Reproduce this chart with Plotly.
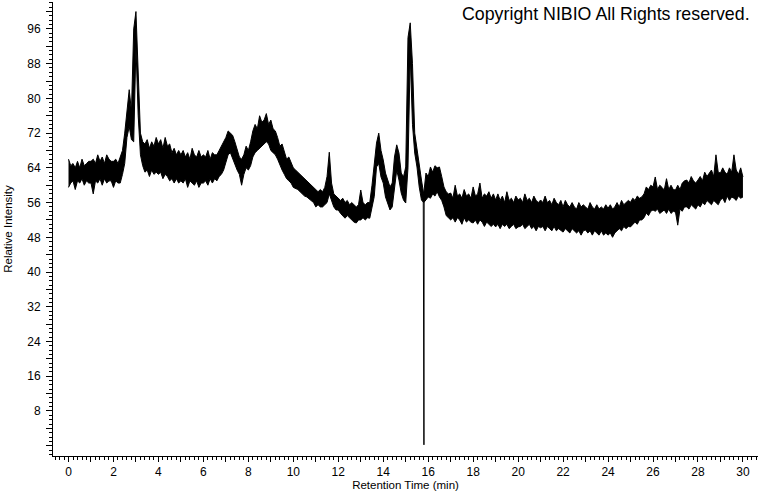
import numpy as np
import plotly.graph_objects as go

# Retention time grid (min), 0.1-min steps from 0 to 30
time_min = np.round(np.arange(0, 30.0001, 0.1), 1)

# Upper envelope of the noisy trace, one row per minute (10 values), plus final point at 30.0
upper = [
    66, 64.5, 65, 64, 65.5, 64, 66, 64.5, 65, 65.5,
    65.5, 66, 65, 67, 65.5, 66.5, 65, 67, 66, 65.5,
    65.5, 66, 65, 66.5, 68, 72, 78, 82, 77, 96,
    100, 88, 72, 70, 69.5, 70.5, 68.5, 70, 69, 71,
    69.5, 70.5, 68.5, 71, 69, 69.5, 67.5, 68.5, 67, 68,
    67, 68, 66.5, 67.5, 66, 68.5, 67, 66.5, 68, 66.5,
    67, 66.5, 68, 66, 67.5, 67, 67, 68, 69, 70,
    71, 72.5, 72, 71.5, 70, 68, 66.5, 66, 67, 69,
    68, 70, 72.5, 74, 73, 76, 74.5, 75, 76.5, 74,
    75, 73, 72.5, 71, 69, 69.5, 67.5, 66, 66.5, 65,
    64, 63.5, 63, 62.5, 62, 61.5, 61, 60.5, 60, 59.5,
    59, 58.5, 59, 58.5, 59.5, 62, 67.6, 60.5, 58, 57.5,
    57, 56.5, 57, 56, 56.5, 55.5, 56, 55.5, 55, 55.5,
    58.9, 56, 55.5, 56, 56, 60, 64.3, 69.7, 72, 68,
    65.8, 62.8, 61.2, 59.6, 60.5, 66.5, 69.3, 67.4, 62.8, 61.9,
    64.2, 94, 97.4, 88, 72, 68, 65, 61.2, 58, 62.8,
    62, 64.2, 63, 64.5, 64, 64.2, 62, 59.6, 58.5, 58,
    58.2, 57, 60, 57.5, 58, 57, 59, 57.5, 58, 57,
    59.6, 57.5, 58, 60.5, 57, 58, 57.5, 58.5, 57, 58,
    56.6, 58, 56.5, 57.5, 56, 58.5, 56.5, 57, 56, 57.5,
    56.6, 57, 56, 58, 56.5, 57, 56, 57.5, 56.5, 56,
    56.6, 56, 57.5, 56, 56.5, 55.5, 57, 56, 55.5, 56.5,
    55, 56.5, 55.5, 55, 56, 55, 54.5, 56, 55, 55.5,
    55, 54.5, 56, 55, 54.5, 55.5, 54.5, 55, 54.5, 55.5,
    54.7, 55.5, 54.5, 55, 56, 55, 56.5, 55.5, 56, 56.5,
    56.1, 57, 56.5, 57.5, 57, 57.3, 58, 59.6, 59, 60,
    59.6, 61.9, 59, 60, 59.5, 58.9, 61.5, 59, 60, 59,
    58.9, 60, 59, 60.5, 61, 61.2, 60.5, 62, 61, 60.5,
    61.2, 62, 61, 63, 62, 62.8, 63.5, 62, 67, 63,
    62.8, 64, 63, 62.5, 64, 63, 67, 63.5, 62.5, 64,
    61.9,
]

# Lower envelope of the noisy trace
lower = [
    59.5, 60.5, 61, 59, 61, 60.5, 61.5, 60, 61, 60.5,
    60.5, 58, 61, 60.5, 61.5, 60, 61.5, 60.5, 61, 61,
    59.5, 61, 60.5, 60.5, 62.5, 65, 71, 73.5, 70.5, 70,
    92, 76, 67, 64.5, 63, 63.5, 62, 63.5, 62.5, 63,
    62.5, 63, 61.5, 62.5, 62, 61, 61.5, 60.5, 61.5, 60.5,
    61, 60.5, 61.5, 59.5, 61, 60.5, 60, 61, 59.5, 60.5,
    60.5, 61, 60, 61.5, 60.5, 61.5, 61, 62, 62.5, 63.5,
    65, 67, 67.5, 66, 65, 63.5, 62.5, 60, 62.5, 64,
    63.5, 64.5, 66.5, 67.5, 68, 68.5, 69, 69.5, 70, 69.5,
    68, 67.5, 67, 66, 64.5, 63.5, 62.5, 61.5, 61, 60.5,
    59.5, 59.3, 59, 58.5, 58, 57.5, 57.3, 56.8, 56.5, 56,
    55, 55.5, 55, 55, 55.5, 56, 58, 56.6, 55, 54.3,
    54.3, 53.5, 53, 52.4, 53, 52.5, 52, 51.5, 51.3, 52,
    52, 52.5, 52, 52.5, 52.4, 55, 57.4, 64.2, 65, 61.9,
    60.5, 57.3, 55.8, 54.3, 55, 58.9, 63.5, 61.2, 58.2, 56.6,
    55.9, 64, 90, 74, 67.4, 64.2, 59.6, 56.6, 56, 56.6,
    57.3, 57, 58, 57.5, 58.5, 57.3, 56.5, 55, 53, 52.5,
    52, 52.5, 51.5, 52.5, 52, 51, 52.5, 51.5, 52, 51.5,
    51.3, 52, 51, 52, 51.5, 50.5, 51.5, 51, 50.5, 51,
    50.4, 51, 50, 51, 50.5, 51, 50, 50.5, 51, 50,
    50.4, 50.5, 51, 50, 50.5, 51, 50, 50.5, 49.5, 50.5,
    50.2, 50.5, 49.5, 50.5, 50, 49.5, 50.5, 49.5, 50, 49.5,
    49.2, 50, 49.5, 49, 50, 49.5, 49, 49.5, 48.5, 49.5,
    49.7, 49, 49.5, 48.5, 49.5, 49, 48.5, 49.5, 48.5, 49,
    48.5, 49, 48, 49, 49.5, 50, 49.5, 50.5, 50, 50.5,
    50.4, 51, 51.5, 51, 52, 52, 52.5, 53.6, 53, 54,
    54.3, 54, 54.5, 53.5, 54, 54.3, 53.5, 54.5, 53.5, 54,
    53.8, 50.8, 54.5, 54, 55, 55, 54.5, 55.5, 55, 54.5,
    55.5, 55, 56, 55.5, 56.5, 56.1, 55.5, 56.5, 56, 55.5,
    56.6, 57, 56, 57.5, 56.5, 57.3, 57, 56.5, 57.5, 57,
    57.3,
]

# Sharp negative spike near 15.8 min
dip_time = [15.78, 15.79, 15.80, 15.81, 15.82, 15.83]
dip_value = [57, 28.5, 57, 0.2, 57, 57]

x_tick_vals = list(range(0, 31))
x_tick_text = [str(v) if v % 2 == 0 else "" for v in x_tick_vals]
y_tick_vals = list(range(0, 101, 4))
y_tick_text = [str(v) if (v % 8 == 0 and v > 0) else "" for v in y_tick_vals]

fig = go.Figure()
fig.add_trace(go.Scatter(x=time_min, y=lower, mode="lines",
                         line=dict(color="black", width=1), hoverinfo="skip", showlegend=False))
fig.add_trace(go.Scatter(x=time_min, y=upper, mode="lines", fill="tonexty",
                         fillcolor="black", line=dict(color="black", width=1),
                         showlegend=False))
fig.add_trace(go.Scatter(x=dip_time, y=dip_value, mode="lines",
                         line=dict(color="black", width=1), showlegend=False))

font_family = "Liberation Sans, Arial, sans-serif"
fig.update_layout(
    width=760, height=492,
    margin=dict(l=53, r=2, t=2, b=36, autoexpand=False),
    paper_bgcolor="white", plot_bgcolor="white",
    font=dict(family=font_family, color="black", size=12),
    showlegend=False,
    xaxis=dict(
        range=[-0.69, 30.67], showgrid=False, zeroline=False, automargin=False,
        showline=True, linecolor="black", linewidth=1,
        ticks="outside", ticklen=5, tickwidth=1, tickcolor="black",
        tickmode="array", tickvals=x_tick_vals, ticktext=x_tick_text,
        tickfont=dict(size=12),
        minor=dict(ticks="outside", ticklen=3, tickwidth=1, tickcolor="black", dtick=0.2, tick0=0, showgrid=False),
        title=dict(text="Retention Time (min)", font=dict(size=11.5), standoff=2),
    ),
    yaxis=dict(
        range=[-2.37, 102.2], showgrid=False, zeroline=False, automargin=False,
        showline=True, linecolor="black", linewidth=1,
        ticks="outside", ticklen=6, tickwidth=1, tickcolor="black",
        tickmode="array", tickvals=y_tick_vals, ticktext=y_tick_text,
        tickfont=dict(size=12), ticklabelstandoff=3,
        minor=dict(ticks="outside", ticklen=3, tickwidth=1, tickcolor="black", dtick=1, tick0=0, showgrid=False),
        title=dict(text="Relative Intensity", font=dict(size=11.5), standoff=12),
    ),
    annotations=[dict(
        text="Copyright NIBIO All Rights reserved.", xref="paper", yref="paper",
        x=0.9915, y=0.974, xanchor="right", yanchor="middle", showarrow=False,
        font=dict(size=17.8, family=font_family, color="black"),
    )],
)

fig.write_html("out.html", config={"displayModeBar": False},
               post_script="document.body.style.margin='0';document.body.style.overflow='hidden';")
